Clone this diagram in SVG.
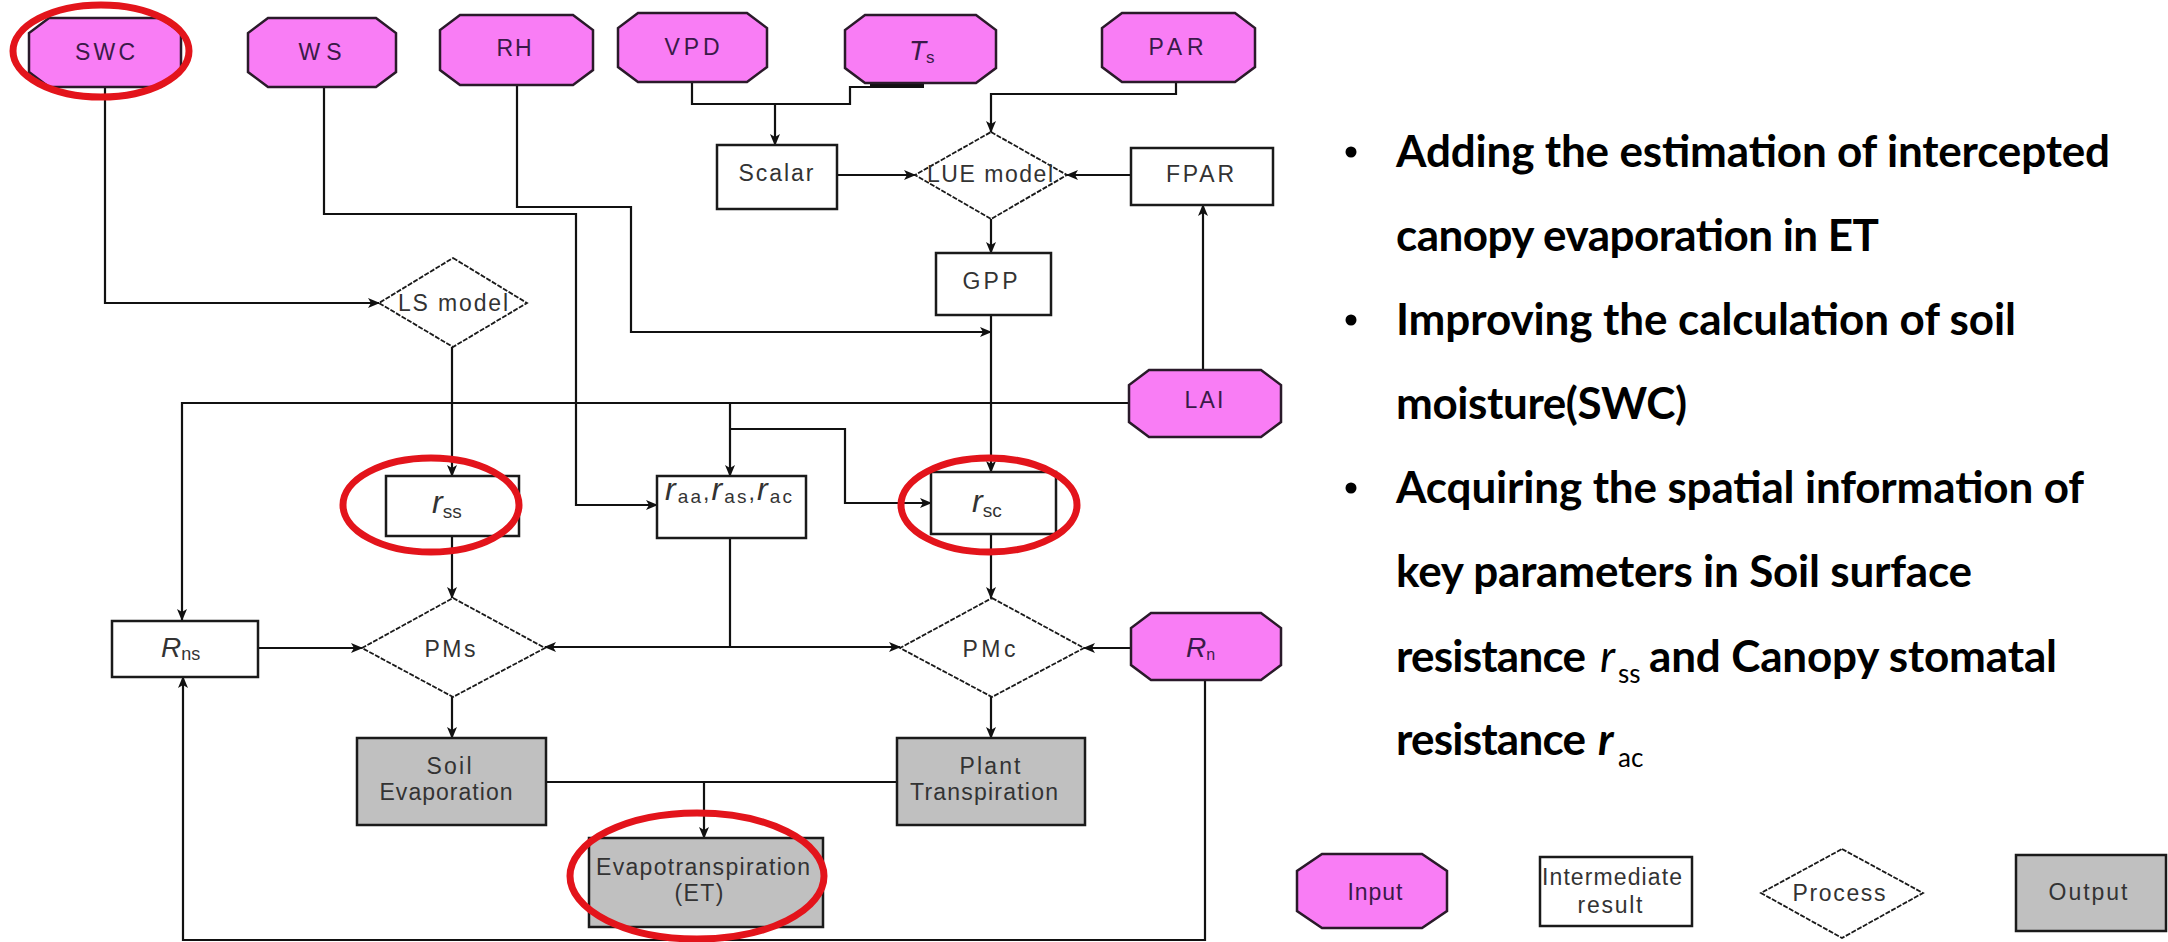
<svg xmlns="http://www.w3.org/2000/svg" width="2168" height="942" viewBox="0 0 2168 942">
<defs>
<style>
.inp{fill:#F97DF5;stroke:#2a1a2a;stroke-width:2.5}
.box{fill:#ffffff;stroke:#1a1a1a;stroke-width:2.5}
.out{fill:#C0C0C0;stroke:#1a1a1a;stroke-width:2.5}
.dia{fill:#ffffff;stroke:#1a1a1a;stroke-width:1.8;stroke-dasharray:5 1.5}
.con{fill:none;stroke:#111;stroke-width:2.2}
.arr{fill:none;stroke:#111;stroke-width:2.2;marker-end:url(#ah)}
.lbl{font-family:"Liberation Sans",Arial,sans-serif;font-size:23px;fill:#333;text-anchor:middle}
.lbs{font-family:"Liberation Sans",Arial,sans-serif;font-size:23px;fill:#333;text-anchor:start}
.ilbl{font-family:"Liberation Sans",Arial,sans-serif;font-size:23px;fill:#3a1a48;text-anchor:middle}
.ilbs{font-family:"Liberation Sans",Arial,sans-serif;font-size:23px;fill:#3a1a48;text-anchor:start}
.it{font-style:italic}
.red{fill:none;stroke:#E3141B;stroke-width:7}
.bt{font-family:Lato,"Open Sans",sans-serif;font-weight:bold;font-size:44px;fill:#000}
.sub{font-family:Lato,"Open Sans",sans-serif;font-weight:normal;font-size:26px;fill:#000}
</style>
<marker id="ah" markerUnits="userSpaceOnUse" markerWidth="12" markerHeight="10" refX="11" refY="5" orient="auto">
<path d="M0,0 L12,5 L0,10 L3,5 Z" fill="#111"/>
</marker>
</defs>
<rect width="2168" height="942" fill="#ffffff"/>

<g id="connectors">
<path class="arr" d="M105 87 V303 H379"/>
<path class="arr" d="M324 87 V214 H576 V505 H657"/>
<path class="arr" d="M517 85 V207 H631 V332 H991"/>
<path class="con" d="M692 82 V104 H850 V87 H924"/>
<path class="con" d="M870 86 H924" style="stroke-width:4"/>
<path class="arr" d="M775 104 V145"/>
<path class="arr" d="M1176 82 V94 H991 V132"/>
<path class="arr" d="M837 175 H915"/>
<path class="arr" d="M1131 175 H1067"/>
<path class="arr" d="M991 219 V253"/>
<path class="arr" d="M1203 370 V205"/>
<path class="arr" d="M991 315 V472"/>
<path class="arr" d="M1129 403 H182 V620"/>
<path class="arr" d="M730 403 V476"/>
<path class="arr" d="M730 429 H845 V503 H931"/>
<path class="arr" d="M452 347 V476"/>
<path class="arr" d="M452 536 V598"/>
<path class="arr" d="M258 648 H362"/>
<path class="con" d="M730 538 V647"/>
<path class="arr" d="M730 647 H545"/>
<path class="arr" d="M730 647 H900"/>
<path class="arr" d="M991 534 V598"/>
<path class="arr" d="M1131 648 H1084"/>
<path class="arr" d="M452 697 V738"/>
<path class="arr" d="M991 697 V738"/>
<path class="con" d="M546 782 H897"/>
<path class="arr" d="M704 782 V838"/>
<path class="arr" d="M1205 680 V940 H183 V677"/>
</g>

<g id="node-swc"><path class="inp" d="M49 18 H161 L181 33 V72 L161 87 H49 L29 72 V33 Z"/><text class="ilbl" x="105" y="60" textLength="60">SWC</text></g>
<g id="node-ws"><path class="inp" d="M268 18 H376 L396 33 V72 L376 87 H268 L248 72 V33 Z"/><text class="ilbl" x="320" y="60" textLength="43">WS</text></g>
<g id="node-rh"><path class="inp" d="M460 15 H573 L593 30 V70 L573 85 H460 L440 70 V30 Z"/><text class="ilbl" x="514" y="56" textLength="35">RH</text></g>
<g id="node-vpd"><path class="inp" d="M638 13 H747 L767 28 V67 L747 82 H638 L618 67 V28 Z"/><text class="ilbl" x="692" y="55" textLength="55">VPD</text></g>
<g id="node-ts"><path class="inp" d="M865 15 H976 L996 30 V68 L976 83 H865 L845 68 V30 Z"/><text class="ilbs" x="909" y="60"><tspan class="it" font-size="28">T</tspan><tspan font-size="17" dy="3">s</tspan></text></g>
<g id="node-par"><path class="inp" d="M1122 13 H1235 L1255 28 V67 L1235 82 H1122 L1102 67 V28 Z"/><text class="ilbl" x="1176" y="55" textLength="55">PAR</text></g>

<g id="node-scalar"><rect class="box" x="717" y="145" width="120" height="64"/><text class="lbl" x="776" y="181" textLength="75">Scalar</text></g>
<g id="node-lue"><path class="dia" d="M991 132 L1067 175 L991 219 L915 175 Z"/><text class="lbl" x="990" y="182" textLength="126">LUE model</text></g>
<g id="node-fpar"><rect class="box" x="1131" y="148" width="142" height="57"/><text class="lbl" x="1200" y="182" textLength="68">FPAR</text></g>
<g id="node-gpp"><rect class="box" x="936" y="253" width="115" height="62"/><text class="lbl" x="990" y="289" textLength="55">GPP</text></g>
<g id="node-ls"><path class="dia" d="M453 258 L527 303 L453 347 L379 303 Z"/><text class="lbl" x="453" y="311" textLength="110">LS model</text></g>
<g id="node-lai"><path class="inp" d="M1149 370 H1261 L1281 385 V422 L1261 437 H1149 L1129 422 V385 Z"/><text class="ilbl" x="1204" y="408" textLength="39">LAI</text></g>

<g id="node-rss"><rect class="box" x="386" y="476" width="133" height="60"/><text class="lbs" x="432" y="513"><tspan class="it" font-size="32">r</tspan><tspan font-size="19" dy="5">ss</tspan></text></g>
<g id="node-raa"><rect class="box" x="657" y="476" width="149" height="62"/><text class="lbs" x="665" y="500" textLength="127"><tspan class="it" font-size="32">r</tspan><tspan font-size="19" dy="3">aa</tspan><tspan dy="-3">,</tspan><tspan class="it" font-size="32">r</tspan><tspan font-size="19" dy="3">as</tspan><tspan dy="-3">,</tspan><tspan class="it" font-size="32">r</tspan><tspan font-size="19" dy="3">ac</tspan></text></g>
<g id="node-rsc"><rect class="box" x="931" y="472" width="125" height="62"/><text class="lbs" x="972" y="512"><tspan class="it" font-size="32">r</tspan><tspan font-size="19" dy="5">sc</tspan></text></g>

<g id="node-rns"><rect class="box" x="112" y="621" width="146" height="56"/><text class="lbs" x="161" y="657"><tspan class="it" font-size="28">R</tspan><tspan font-size="18" dy="3">ns</tspan></text></g>
<g id="node-pms"><path class="dia" d="M453 598 L545 648 L453 697 L362 648 Z"/><text class="lbl" x="450" y="657" textLength="51">PMs</text></g>
<g id="node-pmc"><path class="dia" d="M992 598 L1084 648 L992 697 L900 648 Z"/><text class="lbl" x="989" y="657" textLength="53">PMc</text></g>
<g id="node-rn"><path class="inp" d="M1151 613 H1261 L1281 628 V665 L1261 680 H1151 L1131 665 V628 Z"/><text class="ilbs" x="1186" y="657"><tspan class="it" font-size="28">R</tspan><tspan font-size="16" dy="3">n</tspan></text></g>

<g id="node-soil"><rect class="out" x="357" y="738" width="189" height="87"/><text class="lbl" x="449" y="774" textLength="45">Soil</text><text class="lbl" x="446" y="800" textLength="133">Evaporation</text></g>
<g id="node-plant"><rect class="out" x="897" y="738" width="188" height="87"/><text class="lbl" x="990" y="774" textLength="61">Plant</text><text class="lbl" x="984" y="800" textLength="148">Transpiration</text></g>
<g id="node-et"><rect class="out" x="589" y="838" width="234" height="89"/><text class="lbl" x="703" y="875" textLength="214">Evapotranspiration</text><text class="lbl" x="699" y="901" textLength="49">(ET)</text></g>

<g id="annotations">
<ellipse class="red" cx="101" cy="51" rx="88" ry="46"/>
<ellipse class="red" cx="431" cy="505" rx="88" ry="47"/>
<ellipse class="red" cx="989" cy="505" rx="88" ry="47"/>
<ellipse class="red" cx="697" cy="876" rx="127" ry="63"/>
</g>

<g id="bullets">
<circle cx="1351" cy="152" r="5.5" fill="#000"/>
<text class="bt" x="1396" y="167" textLength="714">Adding the estimation of intercepted</text>
<text class="bt" x="1396" y="251" textLength="483">canopy evaporation in ET</text>
<circle cx="1351" cy="320" r="5.5" fill="#000"/>
<text class="bt" x="1396" y="335" textLength="620">Improving the calculation of soil</text>
<text class="bt" x="1396" y="419" textLength="291">moisture(SWC)</text>
<circle cx="1351" cy="488" r="5.5" fill="#000"/>
<text class="bt" x="1396" y="503" textLength="688">Acquiring the spatial information of</text>
<text class="bt" x="1396" y="587" textLength="576">key parameters in Soil surface</text>
<text class="bt" x="1396" y="672"><tspan textLength="190">resistance</tspan><tspan x="1600" font-style="italic" font-weight="normal">r</tspan><tspan class="sub" x="1618" y="683">ss</tspan><tspan x="1649" y="672" textLength="408">and Canopy stomatal</tspan></text>
<text class="bt" x="1396" y="755"><tspan textLength="190">resistance</tspan><tspan x="1598" font-style="italic">r</tspan><tspan class="sub" x="1618" y="767">ac</tspan></text>
</g>

<g id="legend">
<g id="legend-input"><path class="inp" d="M1322 854 H1422 L1447 871 V911 L1422 928 H1322 L1297 911 V871 Z"/><text class="ilbl" x="1375" y="900" textLength="55">Input</text></g>
<g id="legend-intermediate"><rect class="box" x="1540" y="857" width="152" height="69"/><text class="lbl" x="1612" y="885" textLength="140">Intermediate</text><text class="lbl" x="1610" y="913" textLength="65">result</text></g>
<g id="legend-process"><path class="dia" d="M1842 849 L1923 893 L1842 938 L1761 893 Z"/><text class="lbl" x="1839" y="901" textLength="93">Process</text></g>
<g id="legend-output"><rect class="out" x="2016" y="855" width="150" height="76"/><text class="lbl" x="2088" y="900" textLength="79">Output</text></g>
</g>
</svg>
